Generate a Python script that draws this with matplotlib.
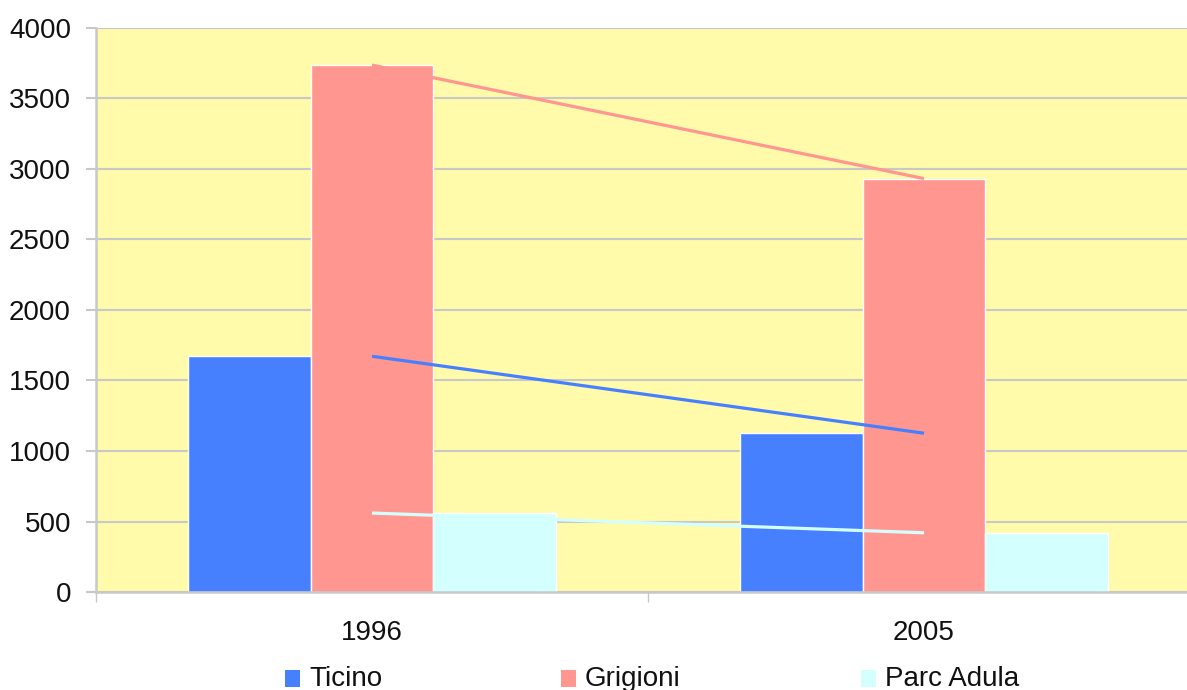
import matplotlib
matplotlib.use("Agg")
import matplotlib.pyplot as plt
from matplotlib.patches import Rectangle
import numpy as np

plt.rcParams['font.family'] = ['Liberation Sans', 'DejaVu Sans']

years = ["1996", "2005"]
series = ["Ticino", "Grigioni", "Parc Adula"]
ticino = [1672, 1126]
grigioni = [3737, 2932]
parc_adula = [560, 420]
colors = ["#4680FF", "#FF9690", "#D4FFFF"]

values = [ticino, grigioni, parc_adula]

W, H = 1187, 690
fig = plt.figure(figsize=(W / 100, H / 100), dpi=100)
ax = fig.add_axes([96 / W, 98 / H, (1200 - 96) / W, (592 - 28) / H])
ax.set_facecolor("#FFFBAA")

x = np.arange(len(years))
bw = 0.222
for i, (vals, col) in enumerate(zip(values, colors)):
    ax.bar(x + (i - 1) * bw, vals, width=bw, color=col,
           edgecolor="white", linewidth=1.0, zorder=2)

# trend lines linking the group centres
for vals, col in zip(values, colors):
    ax.plot(x, vals, color=col, lw=2.3, zorder=3, solid_capstyle="butt")

ax.set_xlim(-0.5, 1.5)
ax.set_ylim(0, 4000)
ax.set_yticks(np.arange(0, 4001, 500))
ax.yaxis.grid(True, color="#C8C8C8", lw=1.5, zorder=1)
ax.set_axisbelow(True)

ax.set_xticks(x)
ax.set_xticklabels(years)
ax.set_xticks([-0.5, 0.5, 1.5], minor=True)
ax.tick_params(axis="x", which="major", length=0, pad=20, labelsize=20, colors="#111111")
ax.tick_params(axis="x", which="minor", length=7, width=1, color="#C8C8C8")
ax.tick_params(axis="y", length=7, width=1.5, color="#C8C8C8", pad=11,
               labelsize=20, labelcolor="#111111")

for s in ["top", "right"]:
    ax.spines[s].set_visible(False)
for s in ["left", "bottom"]:
    ax.spines[s].set_color("#C8C8C8")
    ax.spines[s].set_linewidth(1.8)

# legend row along the bottom edge
leg_x = [285, 561, 861]
for name, col, lx in zip(series, colors, leg_x):
    fig.patches.append(Rectangle((lx / W, (H - 687) / H), 15 / W, 17 / H,
                                 transform=fig.transFigure, facecolor=col,
                                 edgecolor="none"))
    fig.text((lx + 24) / W, (H - 686) / H, name, fontsize=20,
             color="#111111", ha="left", va="baseline")

fig.savefig("out.png", dpi=100)
